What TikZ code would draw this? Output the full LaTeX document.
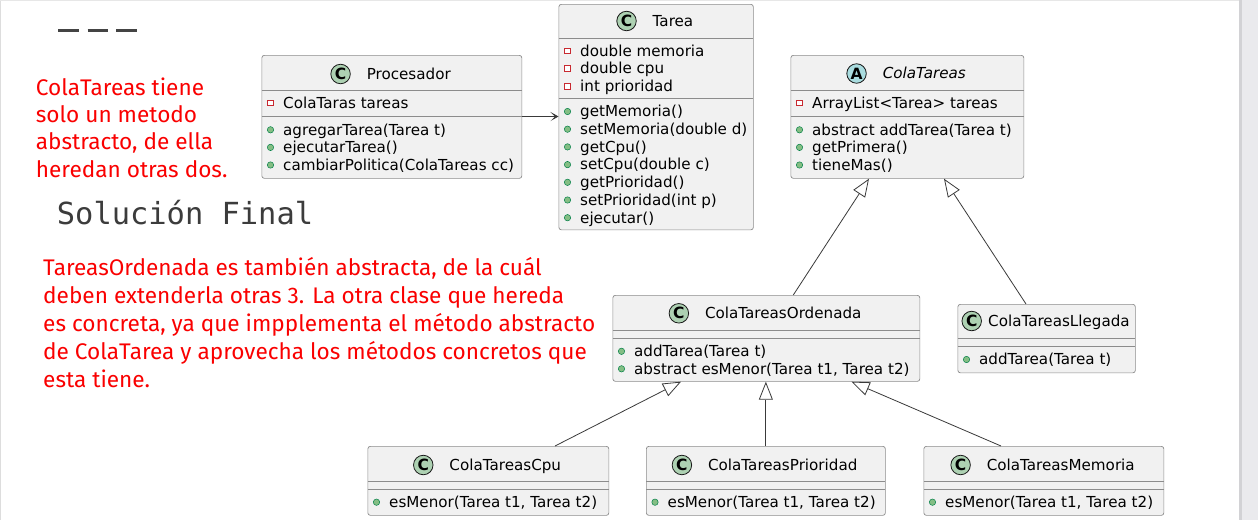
\documentclass[tikz,border=0pt]{standalone}
\usepackage{fontspec}
\setmainfont{DejaVu Sans}
\newfontfamily\notefont{Fira Sans}
\newfontfamily\solfont{DejaVu Sans Mono}
\usetikzlibrary{arrows.meta,calc}
\definecolor{boxfill}{HTML}{F1F1F1}
\definecolor{boxline}{HTML}{8C8C8C}
\definecolor{cfill}{HTML}{ADD1B2}
\definecolor{afill}{HTML}{A9DCDF}
\definecolor{privc}{HTML}{C82930}
\definecolor{pubfill}{HTML}{84BE84}
\definecolor{publine}{HTML}{038048}
\definecolor{notered}{HTML}{FA0000}
\definecolor{linec}{HTML}{3A3A3A}
\definecolor{solc}{HTML}{3C3C3C}
\definecolor{dashc}{HTML}{444444}
\definecolor{stripc}{HTML}{EAEAED}
\definecolor{stripedge}{HTML}{D2D2D5}
\definecolor{framec}{HTML}{DDDDDD}
\tikzset{
  classbox/.style={draw=boxline, fill=boxfill, rounded corners=2.5pt, line width=0.7pt, inner sep=0pt, anchor=north west},
  sepline/.style={draw=boxline, line width=0.7pt},
  badge/.style={circle, draw=black!90, line width=0.8pt, minimum size=19.5pt, inner sep=0pt, font=\bfseries\fontsize{15.5}{15.5}\selectfont},
  titletext/.style={anchor=base, inner sep=0pt, font=\fontsize{15.15}{17}\selectfont},
  member/.style={anchor=base west, inner sep=0pt, font=\fontsize{15.15}{17}\selectfont},
  privsq/.style={draw=privc, fill=white, line width=0.7pt},
  pubdot/.style={draw=publine, fill=pubfill, line width=0.5pt},
  assoc/.style={draw=linec, line width=0.8pt, -{Stealth[length=8pt,width=9pt,inset=4.5pt]}},
  inh/.style={draw=linec, line width=0.8pt, -{Triangle[open,length=18pt,width=14pt]}},
  note/.style={anchor=base west, inner sep=0pt, text=notered, font=\notefont\fontsize{22.6}{26}\selectfont},
}
\newcounter{memb}
\newcommand\privm[3]{\stepcounter{memb}\draw[privsq] (#1+6.25,#2-2.75) rectangle ++(5.5,5.5); \node[member] (memb\arabic{memb}) at (#1+21.5,#2+5.3) {#3};}
\newcommand\pubm[3]{\stepcounter{memb}\filldraw[pubdot] (#1+9,#2) circle (3.2); \node[member] (memb\arabic{memb}) at (#1+21.5,#2+5.3) {#3};}
\newcommand\ctitle[6]{\node[titletext] (#1T) at (#2+17.25,#3+5.3) {#6};
  \node[badge, fill=#5] (#1B) at ($(#1T.base west)+(-26,-5.3)$) {#4};}
\begin{document}
\begin{tikzpicture}[x=1pt,y=-1pt]
\useasboundingbox (0,0) rectangle (1258,520);
\fill[white] (0,0) rectangle (1258,520);
% page frame
\draw[framec, line width=1pt] (0.5,0) -- (0.5,520);
\draw[framec!70, line width=1pt] (0,0.5) -- (1239,0.5);
\fill[stripc] (1239,0) rectangle (1258,520);
\fill[stripedge] (1239,0) rectangle (1242,520);

% heading marks
\draw[dashc, line width=3pt] (58.3,30.8) -- (79.3,30.8);
\draw[dashc, line width=3pt] (87.7,30.8) -- (108.3,30.8);
\draw[dashc, line width=3pt] (116,30.8) -- (136.7,30.8);
\node[anchor=base west, inner sep=0pt, text=solc, font=\solfont\fontsize{30.4}{34}\selectfont] (sol) at (56.7,224.3) {Solución Final};

% notes
\node[note] (n1) at (35.7,95) {ColaTareas tiene};
\node[note] (n2) at (35.7,122.4) {solo un metodo};
\node[note] (n3) at (35.7,149.8) {abstracto, de ella};
\node[note] (n4) at (35.7,177.2) {heredan otras dos.};
\node[note] (m1) at (43,275) {TareasOrdenada es también abstracta, de la cuál};
\node[note] (m2) at (43,303) {deben extenderla otras 3. La otra clase que hereda};
\node[note] (m3) at (43,331) {es concreta, ya que impplementa el método abstracto};
\node[note] (m4) at (43,359) {de ColaTarea y aprovecha los métodos concretos que};
\node[note] (m5) at (43,387) {esta tiene.};

% Procesador
\node[classbox, minimum width=260pt, minimum height=123pt] (proc) at (261.5,55) {};
\draw[sepline] (261.5,90.5) -- (521.5,90.5);
\draw[sepline] (261.5,116.5) -- (521.5,116.5);
\ctitle{proc}{391.5}{74}{C}{cfill}{Procesador}
\privm{261.5}{103}{ColaTaras tareas}
\pubm{261.5}{129.8}{agregarTarea(Tarea t)}
\pubm{261.5}{147.4}{ejecutarTarea()}
\pubm{261.5}{165}{cambiarPolitica(ColaTareas cc)}

% Tarea
\node[classbox, minimum width=194.5pt, minimum height=225.5pt] (tarea) at (558.5,4) {};
\draw[sepline] (558.5,38) -- (753,38);
\draw[sepline] (558.5,98.5) -- (753,98.5);
\ctitle{tarea}{655.75}{21}{C}{cfill}{Tarea}
\privm{558.5}{50.9}{double memoria}
\privm{558.5}{68.5}{double cpu}
\privm{558.5}{86.2}{int prioridad}
\pubm{558.5}{111.5}{getMemoria()}
\pubm{558.5}{129.2}{setMemoria(double d)}
\pubm{558.5}{146.9}{getCpu()}
\pubm{558.5}{164.6}{setCpu(double c)}
\pubm{558.5}{182.3}{getPrioridad()}
\pubm{558.5}{200}{setPrioridad(int p)}
\pubm{558.5}{217.7}{ejecutar()}

% ColaTareas
\node[classbox, minimum width=233pt, minimum height=123pt] (ct) at (790.5,55) {};
\draw[sepline] (790.5,90.5) -- (1023.5,90.5);
\draw[sepline] (790.5,116.5) -- (1023.5,116.5);
\ctitle{ct}{907}{73.5}{A}{afill}{\itshape ColaTareas}
\privm{790.5}{103}{ArrayList<Tarea> tareas}
\pubm{790.5}{129.8}{abstract addTarea(Tarea t)}
\pubm{790.5}{147.4}{getPrimera()}
\pubm{790.5}{165}{tieneMas()}

% ColaTareasOrdenada
\node[classbox, minimum width=307pt, minimum height=86pt] (ord) at (612.5,295) {};
\draw[sepline] (612.5,330) -- (919.5,330);
\draw[sepline] (612.5,338.5) -- (919.5,338.5);
\ctitle{ord}{766}{313.3}{C}{cfill}{ColaTareasOrdenada}
\pubm{612.5}{351.3}{addTarea(Tarea t)}
\pubm{612.5}{368.8}{abstract esMenor(Tarea t1, Tarea t2)}

% ColaTareasLlegada
\node[classbox, minimum width=177.5pt, minimum height=68.5pt] (lleg) at (957.5,304) {};
\draw[sepline] (957.5,338) -- (1135,338);
\draw[sepline] (957.5,346.5) -- (1135,346.5);
\node[titletext, anchor=base west] (llegT) at (988,326.3) {ColaTareasLlegada};
\node[badge, fill=cfill] (llegB) at (971.7,321) {C};
\pubm{957.5}{359.5}{addTarea(Tarea t)}

% ColaTareasCpu
\node[classbox, minimum width=241pt, minimum height=69pt] (cpu) at (367.5,446) {};
\draw[sepline] (367.5,481) -- (608.5,481);
\draw[sepline] (367.5,489.5) -- (608.5,489.5);
\ctitle{cpu}{488}{465}{C}{cfill}{ColaTareasCpu}
\pubm{367.5}{502.2}{esMenor(Tarea t1, Tarea t2)}

% ColaTareasPrioridad
\node[classbox, minimum width=239pt, minimum height=69pt] (prio) at (646,446) {};
\draw[sepline] (646,481) -- (885,481);
\draw[sepline] (646,489.5) -- (885,489.5);
\ctitle{prio}{765.5}{465}{C}{cfill}{ColaTareasPrioridad}
\pubm{646}{502.2}{esMenor(Tarea t1, Tarea t2)}

% ColaTareasMemoria
\node[classbox, minimum width=240pt, minimum height=69pt] (mem) at (923.5,446) {};
\draw[sepline] (923.5,481) -- (1163.5,481);
\draw[sepline] (923.5,489.5) -- (1163.5,489.5);
\ctitle{mem}{1043.5}{465}{C}{cfill}{ColaTareasMemoria}
\pubm{923.5}{502.2}{esMenor(Tarea t1, Tarea t2)}

% connectors
\draw[assoc] ($(proc.north east)+(0,61.5)$) -- ($(tarea.north west)+(0,112.5)$);
\draw[inh] ($(ord.north west)+(180.8,0)$) -- ($(ct.south west)+(78.5,0)$);
\draw[inh] ($(lleg.north west)+(68.5,0)$) -- ($(ct.south west)+(153.5,0)$);
\draw[inh] ($(cpu.north west)+(187.5,0)$) -- ($(ord.south west)+(68.5,0)$);
\draw[inh] (prio.north) -- (prio.north |- ord.south);
\draw[inh] ($(mem.north west)+(77.5,0)$) -- ($(ord.south west)+(239,0)$);
\end{tikzpicture}
\end{document}
